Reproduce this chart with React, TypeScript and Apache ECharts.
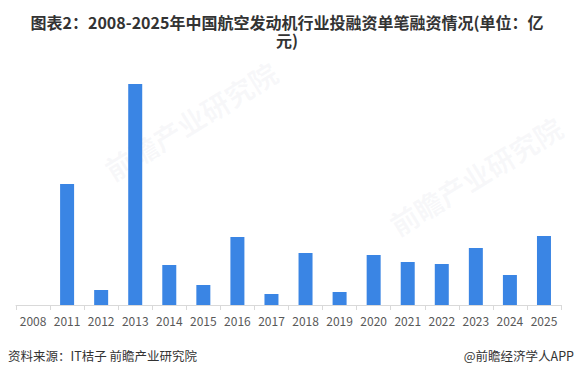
import React, { useEffect, useRef } from "react";
import * as echarts from "echarts";

const categories = ["2008", "2011", "2012", "2013", "2014", "2015", "2016", "2017", "2018", "2019", "2020", "2021", "2022", "2023", "2024", "2025"];
const values = [0, 4.84, 0.6, 8.84, 1.6, 0.8, 2.72, 0.44, 2.08, 0.52, 2.0, 1.72, 1.64, 2.28, 1.2, 2.76];

const titleLine1 = "图表2：2008-2025年中国航空发动机行业投融资单笔融资情况(单位：亿";
const titleLine2 = "元)";
const sourceText = "资料来源：IT桔子 前瞻产业研究院";
const brandText = "@前瞻经济学人APP";
const watermarkText = "前瞻产业研究院";

export default function App() {
  const ref = useRef<HTMLDivElement>(null);
  useEffect(() => {
    if (!ref.current) return;
    const chart = echarts.init(ref.current, null, { renderer: "svg" });
    const titleStyle = {
      textAlign: "center",
      textVerticalAlign: "middle",
      fontSize: 16,
      fontWeight: "bold",
      fill: "#333333",
      fontFamily: "Noto Sans CJK SC",
      lineHeight: 16,
    };
    chart.setOption({
      animation: false,
      backgroundColor: "#ffffff",
      grid: { left: 16, right: 15, top: 75, bottom: 72, containLabel: false },
      xAxis: {
        type: "category",
        data: categories,
        axisLine: { lineStyle: { color: "#d9d9d9", width: 1 } },
        axisTick: { show: true, alignWithLabel: false, length: 5, lineStyle: { color: "#d9d9d9" } },
        axisLabel: { color: "#595959", fontSize: 12, margin: 9, fontFamily: "Noto Sans CJK SC", interval: 0 },
      },
      yAxis: {
        type: "value",
        min: 0,
        max: 9.2,
        show: false,
        splitLine: { show: false },
      },
      series: [
        {
          type: "bar",
          data: values,
          barWidth: 14,
          itemStyle: { color: "#3a85e4" },
        },
      ],
      graphic: [
        {
          type: "text",
          x: 100,
          y: 160,
          rotation: 0.55,
          z: -1,
          style: { text: watermarkText, fontSize: 28, fontWeight: "bold", fill: "rgba(170,178,195,0.09)", fontFamily: "Noto Sans CJK SC" },
        },
        {
          type: "text",
          x: 385,
          y: 215,
          rotation: 0.55,
          z: -1,
          style: { text: watermarkText, fontSize: 28, fontWeight: "bold", fill: "rgba(170,178,195,0.09)", fontFamily: "Noto Sans CJK SC" },
        },
        { type: "text", x: 287, y: 22, style: { ...titleStyle, text: titleLine1 } },
        { type: "text", x: 287, y: 40, style: { ...titleStyle, text: titleLine2 } },
        {
          type: "text",
          x: 8,
          y: 349,
          style: { text: sourceText, fontSize: 12.5, fill: "#333333", fontFamily: "Noto Sans CJK SC" },
        },
        {
          type: "text",
          right: 2,
          y: 349,
          style: { text: brandText, fontSize: 12.5, fill: "#333333", fontFamily: "Noto Sans CJK SC" },
        },
      ],
    });
    return () => chart.dispose();
  }, []);
  return <div ref={ref} style={{ width: 576, height: 377, position: "absolute", left: 0, top: 0 }} />;
}
